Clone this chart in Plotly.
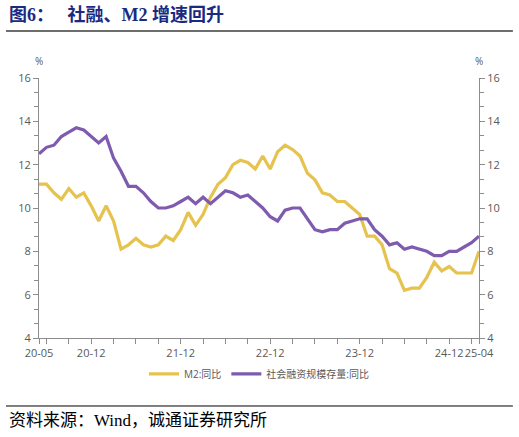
import plotly.graph_objects as go

months = [f"{y % 100:02d}-{m:02d}" for y in range(2020, 2026) for m in range(1, 13)]
months = months[months.index("20-05"):months.index("25-04") + 1]

m2_yoy = [
    11.1, 11.1, 10.7, 10.4, 10.9, 10.5, 10.7, 10.1,
    9.4, 10.1, 9.4, 8.1, 8.3, 8.6, 8.3, 8.2, 8.3, 8.7, 8.5, 9.0,
    9.8, 9.2, 9.7, 10.5, 11.1, 11.4, 12.0, 12.2, 12.1, 11.8, 12.4, 11.8,
    12.6, 12.9, 12.7, 12.4, 11.6, 11.3, 10.7, 10.6, 10.3, 10.3, 10.0, 9.7,
    8.7, 8.7, 8.3, 7.2, 7.0, 6.2, 6.3, 6.3, 6.8, 7.5, 7.1, 7.3,
    7.0, 7.0, 7.0, 8.0,
]
tsf_yoy = [
    12.5, 12.8, 12.9, 13.3, 13.5, 13.7, 13.6, 13.3,
    13.0, 13.3, 12.3, 11.7, 11.0, 11.0, 10.7, 10.3, 10.0, 10.0, 10.1, 10.3,
    10.5, 10.2, 10.5, 10.2, 10.5, 10.8, 10.7, 10.5, 10.6, 10.3, 10.0, 9.6,
    9.4, 9.9, 10.0, 10.0, 9.5, 9.0, 8.9, 9.0, 9.0, 9.3, 9.4, 9.5,
    9.5, 9.0, 8.7, 8.3, 8.4, 8.1, 8.2, 8.1, 8.0, 7.8, 7.8, 8.0,
    8.0, 8.2, 8.4, 8.7,
]

series_names = ["M2:同比", "社会融资规模存量:同比"]
label_months = ["20-05", "20-12", "21-12", "22-12", "23-12", "24-12", "25-04"]
tick_months = [m for m in months if int(m[3:]) % 3 == 0 or m in ("20-05", "25-04")]
tick_text = [m if m in label_months else "" for m in tick_months]

title_text = "图6：   社融、M2 增速回升"
source_text = "资料来源：Wind，诚通证券研究所"

YELLOW = "#E6C24E"
PURPLE = "#7E5BAE"
AX = "#8C8C8C"
TXT = "#595959"
FONT = "Open Sans, Noto Sans CJK SC, sans-serif"

fig = go.Figure()
fig.add_trace(go.Scatter(x=months, y=m2_yoy, name=series_names[0], mode="lines",
                         line=dict(color=YELLOW, width=3.2)))
fig.add_trace(go.Scatter(x=months, y=tsf_yoy, name=series_names[1], mode="lines",
                         line=dict(color=PURPLE, width=3.2), yaxis="y2"))

axis_common = dict(range=[4, 16], dtick=2, tick0=4, showgrid=False, zeroline=False,
                   showline=True, linecolor=AX, linewidth=1, ticks="outside",
                   ticklen=5, tickcolor=AX, tickfont=dict(size=11, color=TXT, family=FONT),
                   minor=dict(dtick=2 / 3, tick0=4, ticks="outside", ticklen=4, tickcolor=AX))

fig.update_layout(
    width=519, height=437,
    margin=dict(l=39, r=40, t=78, b=99),
    paper_bgcolor="white", plot_bgcolor="white",
    font=dict(family=FONT, color=TXT),
    showlegend=True,
    legend=dict(orientation="h", x=0.5, xanchor="center", y=-0.138, yanchor="middle",
                font=dict(size=10, color=TXT, family=FONT), itemwidth=30,
                bgcolor="rgba(0,0,0,0)"),
    xaxis=dict(type="category", range=[0, len(months) - 1], categoryorder="array",
               categoryarray=months, tickmode="array", tickvals=tick_months,
               ticktext=tick_text, ticks="outside", ticklen=5, tickcolor=AX,
               showline=True, linecolor=AX, linewidth=1, showgrid=False, zeroline=False,
               tickangle=0,
               tickfont=dict(size=11, color=TXT, family=FONT)),
    yaxis=dict(side="left", **axis_common),
    yaxis2=dict(side="right", overlaying="y", **axis_common),
)

fig.add_annotation(text="%", xref="paper", yref="paper", x=0, y=1.065, showarrow=False,
                   font=dict(size=10, color=TXT, family=FONT), xanchor="center", yanchor="middle")
fig.add_annotation(text="%", xref="paper", yref="paper", x=1, y=1.065, showarrow=False,
                   font=dict(size=10, color=TXT, family=FONT), xanchor="center", yanchor="middle")

fig.add_annotation(text="<b>" + title_text + "</b>", xref="paper", yref="paper",
                   x=-0.0727, y=1.246, xanchor="left", yanchor="middle", showarrow=False,
                   font=dict(size=18, color="#1B2A80",
                             family="Liberation Serif, Noto Sans CJK SC, serif"))
fig.add_shape(type="line", xref="paper", yref="paper", x0=-0.075, x1=1.077, y0=1.181, y1=1.181,
              line=dict(color="#6E6E6E", width=2))
fig.add_shape(type="line", xref="paper", yref="paper", x0=-0.075, x1=1.077, y0=-0.2615, y1=-0.2615,
              line=dict(color="#000000", width=1))
fig.add_annotation(text=source_text, xref="paper", yref="paper", x=-0.0727, y=-0.319,
                   xanchor="left", yanchor="middle", showarrow=False,
                   font=dict(size=17, color="#000000",
                             family="Liberation Serif, Noto Sans CJK SC, serif"))

fig.write_html("out.html", config={"displayModeBar": False},
               post_script="document.body.style.margin='0';document.body.style.overflow='hidden';")
